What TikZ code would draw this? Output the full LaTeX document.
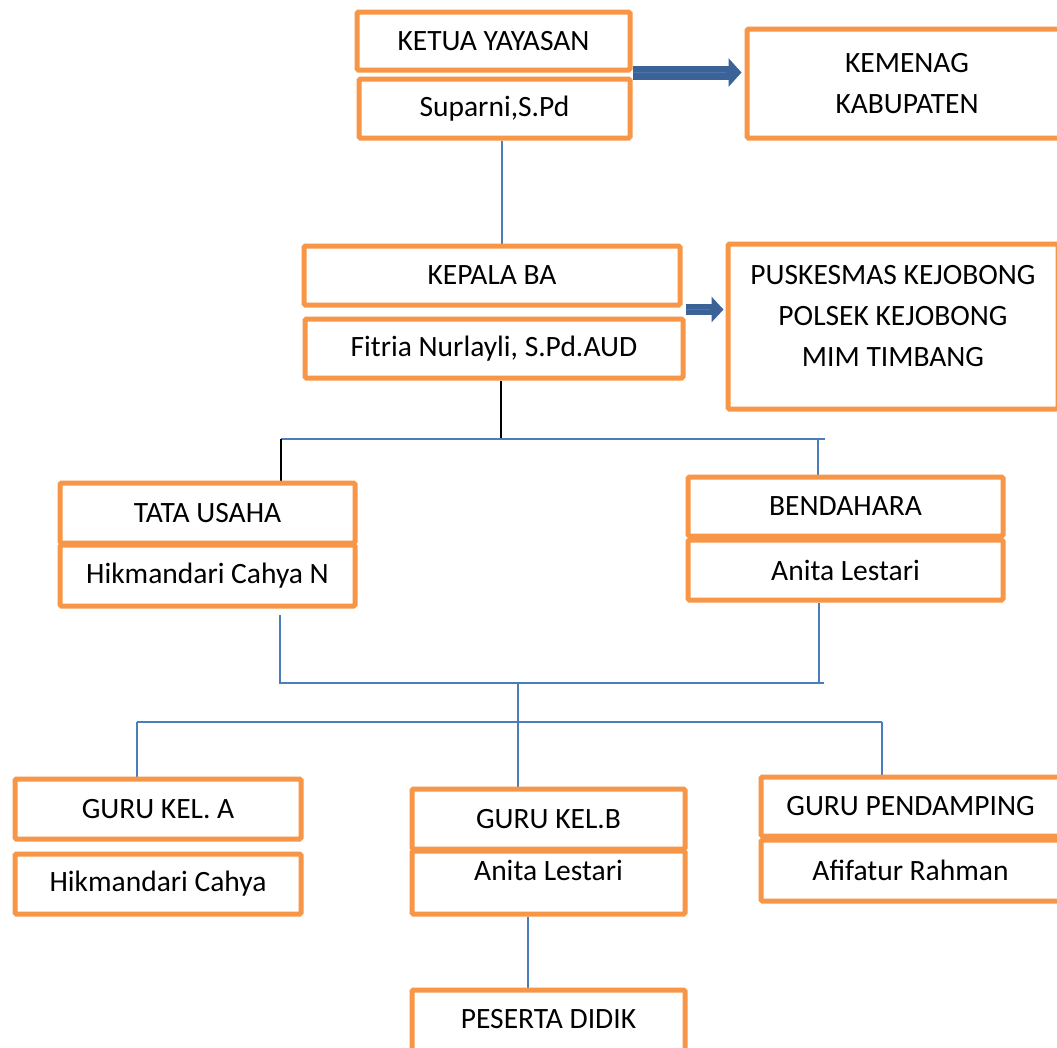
\documentclass[tikz,border=0pt]{standalone}
\usepackage{fontspec}
\setmainfont{Carlito}
\usetikzlibrary{arrows.meta}
\definecolor{org}{HTML}{F79646}
\definecolor{lnb}{HTML}{4A7EBB}
\definecolor{arw}{HTML}{3C6398}
\definecolor{arwl}{HTML}{4A74AA}
\pgfdeclarelayer{background}
\pgfsetlayers{background,main}
\begin{document}
\begin{tikzpicture}[x=1pt,y=-1pt,
  box/.style={draw=org, line width=5pt, fill=white, rounded corners=1.5pt, inner sep=0pt, font=\fontsize{29.5}{41}\selectfont, align=center},
  lbl/.style={anchor=center, inner sep=0pt, font=\fontsize{29.5}{41}\selectfont, align=center},
  bl/.style={draw=lnb, line width=1.6pt},
  bk/.style={draw=black, line width=2pt},
  barrow/.style={draw=arw, line width=14pt, -{Triangle[length=13pt,width=28pt]}},
  barrowb/.style={draw=arw, line width=11pt, -{Triangle[length=12pt,width=25pt]}},
  shine/.style={draw=arwl, line width=0.8pt},
]
\clip (0,0) rectangle (1057,1047);
\useasboundingbox (0,0) rectangle (1057,1047);

% boxes
\node[box, minimum width=273pt, minimum height=58pt] (ketua) at (493.5,41) {KETUA YAYASAN};
\node[box, minimum width=271pt, minimum height=59pt] (sup) at (494.5,108.5) {Suparni,S.Pd};
\node[box, minimum width=320pt, minimum height=109pt] (kemenag) at (907,83.5) {KEMENAG\\KABUPATEN};
\node[box, minimum width=376pt, minimum height=59pt] (kep) at (492,275.5) {KEPALA BA};
\node[box, minimum width=378pt, minimum height=59pt] (fit) at (494,348.5) {Fitria Nurlayli, S.Pd.AUD};
\node[box, minimum width=330pt, minimum height=165pt,
      label={[lbl, yshift=10pt]center:PUSKESMAS KEJOBONG\\POLSEK KEJOBONG\\MIM TIMBANG}] (pusk) at (893,326.5) {};
\node[box, minimum width=295pt, minimum height=60pt] (tata) at (207.5,513) {TATA USAHA};
\node[box, minimum width=295pt, minimum height=61pt] (hik) at (207.5,575.5) {Hikmandari Cahya N};
\node[box, minimum width=315pt, minimum height=59pt] (bend) at (845.5,506.5) {BENDAHARA};
\node[box, minimum width=315pt, minimum height=60pt] (anita) at (845.5,570) {Anita Lestari};
\node[box, minimum width=286pt, minimum height=60pt] (gka) at (158,809) {GURU KEL. A};
\node[box, minimum width=286pt, minimum height=60pt] (hika) at (158,884) {Hikmandari Cahya};
\node[box, minimum width=273pt, minimum height=60pt] (gkb) at (548.5,819) {GURU KEL.B};
\node[box, minimum width=273pt, minimum height=63pt,
      label={[lbl, yshift=12pt]center:Anita Lestari}] (anb) at (548.5,882.5) {};
\node[box, minimum width=299pt, minimum height=59pt] (gp) at (910.5,806.5) {GURU PENDAMPING};
\node[box, minimum width=299pt, minimum height=61pt] (af) at (910.5,870.5) {Afifatur Rahman};
\node[box, minimum width=273pt, minimum height=70pt,
      label={[lbl, yshift=6pt]center:PESERTA DIDIK}] (pd) at (548.5,1025) {};

% junction points
\coordinate (j0) at (501,439);
\coordinate (jL) at (281,439);
\coordinate (jR) at (825,439);
\coordinate (jB) at (818,439);
\coordinate (k1) at (280,615);
\coordinate (k2) at (280,683);
\coordinate (k3) at (824,683);
\coordinate (k4) at (819,603);
\coordinate (k5) at (518,683);
\coordinate (mL) at (137,722);
\coordinate (mR) at (882,722);

\begin{pgfonlayer}{background}
\fill[white] (0,0) rectangle (1057,1047);
\draw[bl] ([xshift=7.5pt]sup.south) -- ([xshift=7.5pt]sup.south |- kep.north);
\draw[bk] ([xshift=7pt]fit.south) -- (j0);
\draw[bl] (jL) -- (jR);
\draw[bk] (jL) -- (jL |- tata.north);
\draw[bl] (jB) -- (jB |- bend.north);
\draw[bl] (k1) -- (k2) -- (k3);
\draw[bl] (k4) -- (k4 |- k3);
\draw[bl] (k5) -- (k5 |- gkb.north);
\draw[bl] (mL) -- (mR);
\draw[bl] (mL) -- (mL |- gka.north);
\draw[bl] (mR) -- (mR |- gp.north);
\draw[bl] ([xshift=-20.5pt]anb.south) -- ([xshift=-20.5pt]anb.south |- pd.north);
\end{pgfonlayer}

% block arrows
\draw[barrow] ([yshift=4pt]sup.north east) -- ([yshift=4pt,xshift=-3pt]sup.north east -| kemenag.west);
\draw[shine, shorten >=16pt] ([yshift=4pt]sup.north east) -- ([yshift=4pt,xshift=-3pt]sup.north east -| kemenag.west);
\draw[barrowb] ([yshift=7pt]fit.north east) -- ([yshift=7pt,xshift=-2pt]fit.north east -| pusk.west);
\draw[shine, shorten >=14pt] ([yshift=7pt]fit.north east) -- ([yshift=7pt,xshift=-2pt]fit.north east -| pusk.west);
\end{tikzpicture}
\end{document}
